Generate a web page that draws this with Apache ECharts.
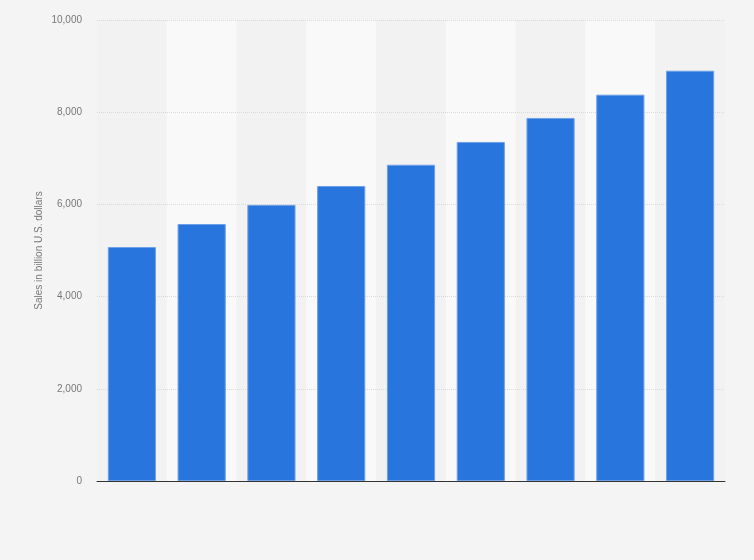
<!DOCTYPE html>
<html>
<head>
<meta charset="utf-8">
<script src="https://cdn.jsdelivr.net/npm/echarts@6/dist/echarts.min.js"></script>
<style>
  html, body { margin: 0; padding: 0; background: #f4f4f4; }
  #chart { width: 754px; height: 560px; }
</style>
</head>
<body>
<div id="chart"></div>
<script>
// categories have no visible labels in the picture
var categories = ['1', '2', '3', '4', '5', '6', '7', '8', '9']
var sales = [5075, 5575, 5990, 6400, 6860, 7355, 7875, 8380, 8900]
var yTicks = { min: 0, max: 10000, interval: 2000 }

var chart = echarts.init(document.getElementById('chart'))
chart.setOption({
  backgroundColor: '#f4f4f4',
  animation: false,
  grid: { left: 97, right: 29, top: 20, bottom: 79 },
  xAxis: {
    type: 'category',
    z: 0,
    data: categories,
    axisLine: { lineStyle: { color: '#333', width: 1 } },
    axisTick: { show: false },
    axisLabel: { show: false },
    splitArea: { show: true, areaStyle: { color: ['#f2f2f2', '#f9f9f9'] } }
  },
  yAxis: {
    type: 'value',
    z: 1,
    min: yTicks.min,
    max: yTicks.max,
    interval: yTicks.interval,
    name: 'Sales in billion U.S. dollars',
    nameLocation: 'middle',
    nameGap: 53,
    nameMoveOverlap: false,
    nameTextStyle: { color: '#777', fontSize: 10, fontFamily: 'Arial, Liberation Sans, sans-serif' },
    axisLine: { show: false },
    axisTick: { show: false },
    axisLabel: {
      color: '#777',
      fontSize: 10,
      margin: 15,
      fontFamily: 'Arial, Liberation Sans, sans-serif',
      formatter: function (v) { return v.toLocaleString('en-US') }
    },
    splitLine: { showMinLine: false, lineStyle: { color: '#dadada', type: 'dotted' } }
  },
  series: [
    {
      type: 'bar',
      data: sales,
      barCategoryGap: '31%',
      itemStyle: { color: '#2876dd', borderColor: '#6d9fe6', borderWidth: 1 }
    }
  ]
})
</script>
</body>
</html>
